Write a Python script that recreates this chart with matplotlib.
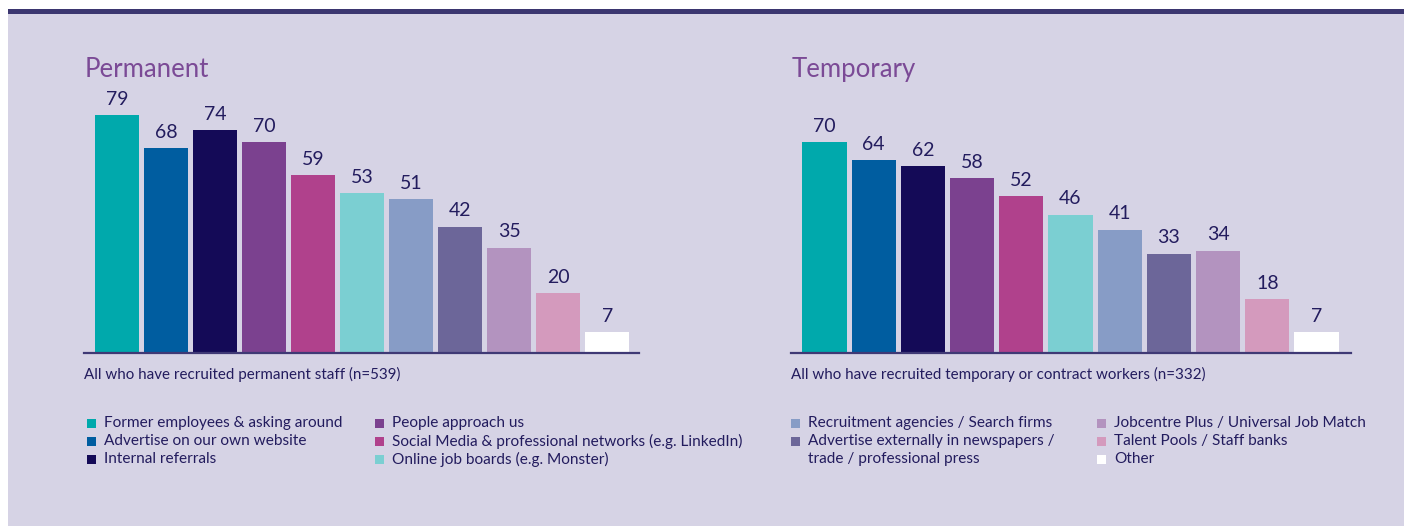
import matplotlib
matplotlib.use('Agg')
import matplotlib.pyplot as plt
from matplotlib.patches import Rectangle

plt.rcParams['font.family'] = ['Lato', 'DejaVu Sans']

# data
categories = ['Former employees & asking around', 'Advertise on our own website',
              'Internal referrals', 'People approach us',
              'Social Media & professional networks (e.g. LinkedIn)',
              'Online job boards (e.g. Monster)', 'Recruitment agencies / Search firms',
              'Advertise externally in newspapers /\ntrade / professional press',
              'Jobcentre Plus / Universal Job Match', 'Talent Pools / Staff banks', 'Other']
permanent = [79, 68, 74, 70, 59, 53, 51, 42, 35, 20, 7]
temporary = [70, 64, 62, 58, 52, 46, 41, 33, 34, 18, 7]
colors = ['#00A9AC', '#005DA0', '#140A57', '#7B418F', '#B0418C', '#7BCFD2',
          '#879CC6', '#6C6699', '#B393BF', '#D49ABD', '#FFFFFF']

W, H = 1408, 526
BG = '#D6D3E5'
TXT = '#231C5E'
TITLE = '#7B4A96'

fig = plt.figure(figsize=(W / 100, H / 100), dpi=100)
fig.patch.set_facecolor('white')


def fx(x):
    return x / W


def fy(y):
    return 1 - y / H


# background panel and top band
fig.patches.append(Rectangle((fx(8), 0), fx(1404 - 8), fy(14), transform=fig.transFigure,
                             facecolor=BG, edgecolor='none', zorder=-10))
fig.patches.append(Rectangle((fx(8), fy(14)), fx(1404 - 8), 5 / H, transform=fig.transFigure,
                             facecolor='#3B3670', edgecolor='none', zorder=-10))


def draw_panel(x0, x1, xlim, values, title, note):
    top, base = 90, 353
    ax = fig.add_axes([fx(x0), fy(base), fx(x1 - x0), (base - top) / H])
    ax.set_facecolor('none')
    xs = range(len(values))
    ax.bar(xs, values, width=0.9, color=colors, edgecolor='none')
    for x, v in zip(xs, values):
        ax.text(x, v + 2.4, str(v), ha='center', va='bottom', fontsize=14, color=TXT)
    ax.set_xlim(*xlim)
    ax.set_ylim(0, (base - top) / 3.01)
    for s in ['top', 'right', 'left']:
        ax.spines[s].set_visible(False)
    ax.spines['bottom'].set_color('#3F3975')
    ax.spines['bottom'].set_linewidth(1.6)
    ax.set_xticks([])
    ax.set_yticks([])
    fig.text(fx(x0 + 1), fy(69), title, fontsize=18.5, color=TITLE, va='center', ha='left')
    fig.text(fx(x0), fy(374), note, fontsize=10.9, color=TXT, va='center', ha='left')


draw_panel(84, 639, (-0.68, 10.65), permanent, 'Permanent',
           'All who have recruited permanent staff (n=539)')
draw_panel(791, 1351, (-0.68, 10.7), temporary, 'Temporary',
           'All who have recruited temporary or contract workers (n=332)')

# legends
legend_cols = [(87, [0, 1, 2]), (375, [3, 4, 5]), (791, [6, 7]), (1097, [8, 9, 10])]
rows = [423, 441, 459]
for x, idx in legend_cols:
    r = 0
    for i in idx:
        fig.patches.append(Rectangle((fx(x), fy(rows[r] + 4.5)), 9 / W, 9 / H,
                                     transform=fig.transFigure, facecolor=colors[i],
                                     edgecolor='none'))
        for line in categories[i].split('\n'):
            fig.text(fx(x + 17), fy(rows[r]), line, fontsize=11.1, color=TXT,
                     va='center', ha='left')
            r += 1

fig.savefig('out.png', dpi=100, facecolor=fig.get_facecolor())
